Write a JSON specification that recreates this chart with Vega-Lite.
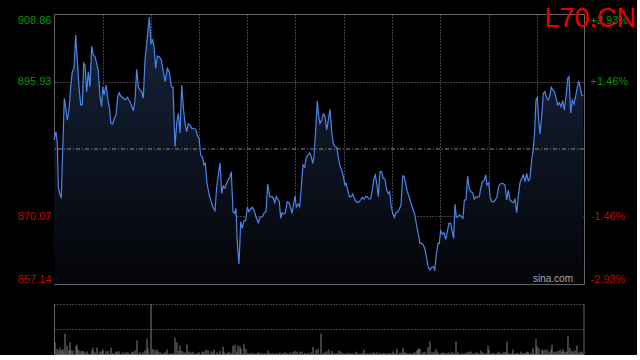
{
  "$schema": "https://vega.github.io/schema/vega-lite/v6.json",
  "background": "#000000",
  "padding": {"left": 16, "top": 4, "right": 0, "bottom": 0},
  "spacing": 18,
  "config": {"view": {"stroke": null}, "font": "Liberation Sans"},
  "datasets": {
    "price": [
      {"t":0,"p":884.72},{"t":2,"p":886.31},{"t":3.3,"p":884.15},{"t":4.3,"p":875.78},{"t":6,"p":874.19},{"t":7.3,"p":873.75},{"t":8.7,"p":882.81},{"t":10.3,"p":892.71},{"t":11.7,"p":890.85},{"t":13.3,"p":888.56},
      {"t":15,"p":890.47},{"t":16.7,"p":894.93},{"t":18.3,"p":897.81},{"t":20,"p":898.46},{"t":21.7,"p":904.84},{"t":23.3,"p":900.05},{"t":25,"p":894.93},{"t":26.7,"p":891.43},{"t":28.3,"p":891.43},{"t":29.7,"p":899.42},
      {"t":31,"p":899.09},{"t":32.7,"p":893.98},{"t":34.3,"p":897.81},{"t":36,"p":894.93},{"t":37.7,"p":902.73},{"t":39.3,"p":901.01},{"t":41,"p":900.68},{"t":42.7,"p":899.42},{"t":44.3,"p":897.81},{"t":46,"p":893.02},
      {"t":47.7,"p":891.10},{"t":48.7,"p":894.93},{"t":50,"p":893.34},{"t":52,"p":895.26},{"t":53.7,"p":892.71},{"t":55.3,"p":891.10},{"t":57,"p":887.92},{"t":58.7,"p":887.79},{"t":60.3,"p":888.88},{"t":62,"p":889.51},
      {"t":63.7,"p":893.02},{"t":65.3,"p":893.78},{"t":67,"p":893.02},{"t":68.7,"p":892.90},{"t":70.3,"p":892.52},{"t":72,"p":892.52},{"t":73.3,"p":892.90},{"t":75.3,"p":892.25},{"t":77,"p":891.62},{"t":79.3,"p":890.34},
      {"t":81,"p":892.39},{"t":82.7,"p":898.27},{"t":84.3,"p":894.93},{"t":86,"p":894.30},{"t":87.7,"p":893.98},{"t":89.3,"p":892.71},{"t":91,"p":900.05},{"t":92.7,"p":903.25},{"t":95.3,"p":908.23},{"t":97,"p":903.25},
      {"t":98.7,"p":903.88},{"t":100,"p":902.60},{"t":101.7,"p":898.46},{"t":103.3,"p":900.82},{"t":105.3,"p":900.68},{"t":107.3,"p":900.05},{"t":109.3,"p":897.81},{"t":111.3,"p":895.89},{"t":113.3,"p":898.46},{"t":115.3,"p":897.81},
      {"t":117.3,"p":894.93},{"t":119,"p":894.82},{"t":121,"p":883.44},{"t":122.7,"p":887.92},{"t":124.3,"p":889.84},{"t":126,"p":886.01},{"t":127.7,"p":895.26},{"t":129.3,"p":891.10},{"t":131,"p":887.92},{"t":132.7,"p":886.31},
      {"t":134.3,"p":887.79},{"t":136,"p":887.60},{"t":137.7,"p":886.97},{"t":139.3,"p":886.97},{"t":141.7,"p":886.77},{"t":143.3,"p":885.68},{"t":145,"p":885.05},{"t":146.7,"p":881.85},{"t":148.3,"p":881.53},{"t":150,"p":879.94},
      {"t":151.3,"p":880.26},{"t":153,"p":876.43},{"t":155.3,"p":874.19},{"t":157.7,"p":872.60},{"t":159.3,"p":871.64},{"t":161,"p":871.18},{"t":162.7,"p":875.78},{"t":164.3,"p":878.02},{"t":166,"p":880.38},{"t":167.7,"p":874.51},
      {"t":169.3,"p":875.91},{"t":171,"p":875.47},{"t":172.7,"p":876.43},{"t":174.3,"p":877.06},{"t":176,"p":877.69},{"t":177.3,"p":878.65},{"t":179,"p":870.99},{"t":180.7,"p":870.68},{"t":182,"p":871.64},{"t":183.3,"p":864.94},
      {"t":185,"p":860.97},{"t":186.7,"p":869.07},{"t":188.3,"p":867.81},{"t":190,"p":869.27},{"t":191.7,"p":869.27},{"t":193.3,"p":871.83},{"t":195,"p":870.99},{"t":196.7,"p":871.51},{"t":198.3,"p":871.83},{"t":200,"p":871.32},
      {"t":202,"p":870.03},{"t":204.3,"p":868.88},{"t":206,"p":869.92},{"t":208.3,"p":870.03},{"t":210.3,"p":870.80},{"t":212,"p":870.99},{"t":213.7,"p":876.30},{"t":215.7,"p":873.86},{"t":218,"p":873.86},{"t":219.3,"p":873.67},
      {"t":220.7,"p":872.71},{"t":222.3,"p":873.86},{"t":224,"p":873.37},{"t":225.3,"p":872.91},{"t":226.7,"p":869.73},{"t":228,"p":870.80},{"t":229.7,"p":870.55},{"t":231.3,"p":870.80},{"t":233.3,"p":872.91},{"t":235,"p":872.71},
      {"t":236.7,"p":871.64},{"t":238,"p":870.68},{"t":239.7,"p":872.60},{"t":241,"p":874.00},{"t":242.3,"p":871.83},{"t":244,"p":872.47},{"t":245.7,"p":871.95},{"t":247.3,"p":875.78},{"t":249,"p":879.94},{"t":250.7,"p":879.49},
      {"t":252.3,"p":881.41},{"t":254,"p":881.85},{"t":255.7,"p":882.29},{"t":257.3,"p":881.53},{"t":258.7,"p":880.26},{"t":260,"p":881.53},{"t":261.7,"p":886.64},{"t":263.3,"p":892.25},{"t":264.7,"p":889.19},{"t":266,"p":887.92},
      {"t":267.7,"p":888.56},{"t":269.3,"p":889.70},{"t":271,"p":889.32},{"t":272.7,"p":886.64},{"t":274.3,"p":888.56},{"t":276,"p":890.60},{"t":277.7,"p":886.31},{"t":279.3,"p":884.09},{"t":281,"p":883.44},{"t":282.7,"p":883.33},
      {"t":284.3,"p":881.53},{"t":286,"p":879.74},{"t":287.7,"p":878.98},{"t":289.3,"p":877.69},{"t":291,"p":876.10},{"t":292,"p":876.43},{"t":293.7,"p":875.15},{"t":295.3,"p":873.86},{"t":297,"p":873.86},{"t":298.7,"p":874.38},
      {"t":300.3,"p":873.56},{"t":302,"p":872.91},{"t":303.7,"p":872.79},{"t":305.3,"p":872.91},{"t":307,"p":873.37},{"t":308.3,"p":873.75},{"t":310,"p":873.37},{"t":311.7,"p":873.86},{"t":313.3,"p":873.86},{"t":315,"p":873.42},
      {"t":316.7,"p":873.42},{"t":318.3,"p":875.15},{"t":320,"p":877.39},{"t":321.3,"p":878.02},{"t":323,"p":876.10},{"t":324.3,"p":873.86},{"t":326,"p":878.65},{"t":327.7,"p":878.65},{"t":329.3,"p":877.39},{"t":331,"p":877.20},
      {"t":332.7,"p":875.15},{"t":334.3,"p":874.51},{"t":335.7,"p":874.82},{"t":337,"p":872.27},{"t":338.7,"p":870.68},{"t":340.3,"p":869.92},{"t":342,"p":870.80},{"t":343.7,"p":870.99},{"t":345.3,"p":871.45},{"t":347,"p":872.27},
      {"t":348.7,"p":877.83},{"t":350,"p":877.83},{"t":351.7,"p":876.43},{"t":353.3,"p":874.82},{"t":355.3,"p":873.75},{"t":357,"p":872.60},{"t":359,"p":871.45},{"t":360.7,"p":870.55},{"t":362.7,"p":868.25},{"t":364.3,"p":866.72},
      {"t":366,"p":864.94},{"t":367.7,"p":864.94},{"t":369.3,"p":864.61},{"t":371,"p":863.79},{"t":372.7,"p":862.06},{"t":374.3,"p":860.34},{"t":376,"p":859.82},{"t":377.7,"p":860.34},{"t":379.3,"p":860.45},{"t":380.7,"p":859.82},
      {"t":382.3,"p":862.70},{"t":384,"p":864.94},{"t":385.3,"p":864.94},{"t":386.7,"p":867.35},{"t":388.3,"p":866.72},{"t":390,"p":866.97},{"t":391.7,"p":865.70},{"t":393.3,"p":867.16},{"t":395,"p":868.77},{"t":396.7,"p":868.77},
      {"t":398.3,"p":867.16},{"t":399.7,"p":865.89},{"t":401,"p":872.47},{"t":402.3,"p":869.92},{"t":404,"p":870.03},{"t":405.7,"p":870.36},{"t":407.3,"p":870.03},{"t":409,"p":869.73},{"t":410.3,"p":873.23},{"t":412,"p":873.23},
      {"t":413.7,"p":877.83},{"t":415.3,"p":875.28},{"t":417,"p":874.82},{"t":418.7,"p":874.63},{"t":420.3,"p":873.37},{"t":422,"p":873.86},{"t":423.7,"p":873.75},{"t":425.3,"p":873.86},{"t":426.7,"p":875.47},{"t":428.3,"p":876.74},
      {"t":430,"p":876.93},{"t":431.7,"p":878.02},{"t":433,"p":876.10},{"t":434.7,"p":876.55},{"t":436.3,"p":873.56},{"t":438,"p":872.91},{"t":439.7,"p":872.91},{"t":441.3,"p":873.23},{"t":443,"p":873.86},{"t":444.7,"p":875.78},
      {"t":446.3,"p":876.30},{"t":448,"p":876.43},{"t":449.7,"p":876.30},{"t":451,"p":876.10},{"t":452.7,"p":873.23},{"t":454.3,"p":875.15},{"t":456,"p":873.23},{"t":457.7,"p":872.91},{"t":459.3,"p":872.71},{"t":461,"p":873.37},
      {"t":462.7,"p":870.80},{"t":464.3,"p":873.86},{"t":466,"p":876.55},{"t":467.7,"p":877.39},{"t":469.3,"p":878.02},{"t":471,"p":876.74},{"t":472.7,"p":878.34},{"t":474.3,"p":876.93},{"t":476,"p":877.39},{"t":477.7,"p":880.89},
      {"t":479.3,"p":882.94},{"t":480.7,"p":886.64},{"t":482,"p":892.39},{"t":483.3,"p":892.90},{"t":484.7,"p":888.56},{"t":486,"p":885.87},{"t":487.7,"p":889.19},{"t":489.3,"p":893.67},{"t":491,"p":893.98},{"t":492.7,"p":892.71},
      {"t":494.3,"p":892.39},{"t":496,"p":893.34},{"t":497.3,"p":894.82},{"t":498.7,"p":894.30},{"t":500.3,"p":893.98},{"t":502,"p":892.90},{"t":503.7,"p":891.43},{"t":505.3,"p":891.87},{"t":507,"p":891.10},{"t":508.7,"p":892.25},
      {"t":510.3,"p":890.47},{"t":512,"p":893.02},{"t":513.7,"p":896.54},{"t":515,"p":896.85},{"t":516.7,"p":889.84},{"t":518.3,"p":892.39},{"t":520,"p":891.62},{"t":521.7,"p":893.15},{"t":523.3,"p":894.82},{"t":524.7,"p":895.89},
      {"t":526,"p":895.07},{"t":527.7,"p":893.34},{"t":529.3,"p":893.15}
    ],
    "vol": [
      {"t":1,"v":1170},{"t":3,"v":530},{"t":5,"v":370},{"t":6,"v":630},{"t":8,"v":430},{"t":9,"v":430},{"t":11,"v":2030},{"t":13,"v":830},{"t":15,"v":370},{"t":16,"v":1170},
      {"t":17,"v":370},{"t":19,"v":370},{"t":22,"v":770},{"t":23,"v":930},{"t":24,"v":430},{"t":26,"v":330},{"t":28,"v":270},{"t":29,"v":330},{"t":31,"v":170},{"t":33,"v":270},
      {"t":38,"v":330},{"t":39,"v":630},{"t":41,"v":170},{"t":43,"v":630},{"t":46,"v":230},{"t":48,"v":270},{"t":49,"v":430},{"t":52,"v":270},{"t":54,"v":300},{"t":57,"v":630},
      {"t":59,"v":100},{"t":62,"v":270},{"t":63,"v":170},{"t":65,"v":270},{"t":69,"v":170},{"t":72,"v":170},{"t":74,"v":170},{"t":78,"v":230},{"t":79,"v":170},{"t":81,"v":370},
      {"t":83,"v":1370},{"t":86,"v":170},{"t":89,"v":170},{"t":91,"v":370},{"t":93,"v":1530},{"t":94,"v":530},{"t":97,"v":5000},{"t":99,"v":500},{"t":101,"v":370},{"t":103,"v":430},
      {"t":104,"v":230},{"t":106,"v":170},{"t":109,"v":100},{"t":111,"v":170},{"t":113,"v":430},{"t":116,"v":70},{"t":119,"v":70},{"t":121,"v":1630},{"t":123,"v":1170},{"t":125,"v":300},
      {"t":126,"v":830},{"t":128,"v":300},{"t":130,"v":170},{"t":131,"v":100},{"t":133,"v":930},{"t":135,"v":230},{"t":137,"v":170},{"t":139,"v":230},{"t":143,"v":100},{"t":145,"v":170},
      {"t":148,"v":230},{"t":150,"v":230},{"t":152,"v":430},{"t":154,"v":370},{"t":157,"v":270},{"t":159,"v":170},{"t":160,"v":430},{"t":163,"v":170},{"t":166,"v":300},{"t":169,"v":730},
      {"t":170,"v":230},{"t":173,"v":100},{"t":175,"v":230},{"t":177,"v":100},{"t":179,"v":830},{"t":181,"v":930},{"t":183,"v":230},{"t":184,"v":830},{"t":186,"v":770},{"t":187,"v":500},
      {"t":190,"v":1030},{"t":192,"v":500},{"t":194,"v":100},{"t":197,"v":100},{"t":199,"v":100},{"t":203,"v":100},{"t":205,"v":170},{"t":208,"v":100},{"t":211,"v":100},{"t":214,"v":330},
      {"t":216,"v":100},{"t":219,"v":100},{"t":223,"v":100},{"t":226,"v":170},{"t":229,"v":100},{"t":231,"v":170},{"t":233,"v":100},{"t":236,"v":170},{"t":239,"v":170},{"t":241,"v":300},
      {"t":243,"v":230},{"t":246,"v":230},{"t":248,"v":230},{"t":251,"v":100},{"t":254,"v":100},{"t":257,"v":170},{"t":259,"v":700},{"t":262,"v":430},{"t":264,"v":530},{"t":267,"v":2030},
      {"t":269,"v":100},{"t":271,"v":170},{"t":273,"v":270},{"t":275,"v":430},{"t":278,"v":300},{"t":280,"v":100},{"t":283,"v":100},{"t":285,"v":330},{"t":287,"v":230},{"t":289,"v":100},
      {"t":293,"v":100},{"t":295,"v":100},{"t":298,"v":100},{"t":302,"v":230},{"t":304,"v":100},{"t":308,"v":100},{"t":310,"v":430},{"t":313,"v":100},{"t":316,"v":100},{"t":319,"v":170},
      {"t":321,"v":100},{"t":323,"v":170},{"t":326,"v":100},{"t":329,"v":100},{"t":331,"v":100},{"t":334,"v":100},{"t":336,"v":100},{"t":339,"v":230},{"t":341,"v":100},{"t":343,"v":530},
      {"t":346,"v":170},{"t":348,"v":100},{"t":349,"v":630},{"t":351,"v":170},{"t":353,"v":100},{"t":356,"v":100},{"t":359,"v":100},{"t":361,"v":170},{"t":363,"v":330},{"t":364,"v":430},
      {"t":365,"v":570},{"t":366,"v":500},{"t":369,"v":170},{"t":371,"v":230},{"t":374,"v":700},{"t":376,"v":1270},{"t":378,"v":170},{"t":380,"v":230},{"t":382,"v":500},{"t":384,"v":170},
      {"t":387,"v":100},{"t":389,"v":170},{"t":391,"v":100},{"t":393,"v":100},{"t":395,"v":170},{"t":398,"v":230},{"t":400,"v":100},{"t":402,"v":1230},{"t":404,"v":170},{"t":408,"v":100},
      {"t":411,"v":100},{"t":413,"v":170},{"t":415,"v":230},{"t":417,"v":230},{"t":419,"v":100},{"t":422,"v":170},{"t":424,"v":100},{"t":427,"v":330},{"t":429,"v":170},{"t":432,"v":100},
      {"t":434,"v":830},{"t":435,"v":430},{"t":438,"v":100},{"t":440,"v":100},{"t":443,"v":100},{"t":445,"v":230},{"t":448,"v":100},{"t":450,"v":230},{"t":452,"v":170},{"t":453,"v":1230},
      {"t":455,"v":100},{"t":458,"v":100},{"t":459,"v":430},{"t":462,"v":100},{"t":464,"v":100},{"t":467,"v":230},{"t":469,"v":100},{"t":471,"v":100},{"t":473,"v":230},{"t":474,"v":170},
      {"t":477,"v":100},{"t":479,"v":630},{"t":482,"v":1500},{"t":483,"v":770},{"t":485,"v":570},{"t":488,"v":430},{"t":489,"v":370},{"t":491,"v":430},{"t":493,"v":430},{"t":495,"v":230},
      {"t":497,"v":430},{"t":498,"v":930},{"t":500,"v":230},{"t":502,"v":230},{"t":504,"v":300},{"t":506,"v":430},{"t":508,"v":230},{"t":509,"v":500},{"t":511,"v":230},{"t":513,"v":230},
      {"t":514,"v":1770},{"t":516,"v":600},{"t":518,"v":300},{"t":519,"v":230},{"t":521,"v":370},{"t":523,"v":830},{"t":525,"v":170},{"t":527,"v":230},{"t":528,"v":230}
    ]
  },
  "vconcat": [
    {
      "width": 530,
      "height": 270,
      "view": {"stroke": "#666666", "strokeWidth": 1},
      "title": {"text": "L70.CN", "anchor": "end", "frame": "group", "orient": "top", "offset": 0, "dx": 52, "dy": 40, "baseline": "alphabetic", "fontSize": 27, "font": "Liberation Sans", "fontWeight": "normal", "color": "#e60000"},
      "layer": [
        {
          "data": {"name": "price"},
          "mark": {"type": "area", "fill": {"gradient": "linear", "x1": 0, "y1": 0, "x2": 0, "y2": 1, "stops": [{"offset": 0, "color": "#17253d"}, {"offset": 1, "color": "#030407"}]}},
          "encoding": {
            "x": {"field": "t", "type": "quantitative", "scale": {"domain": [0, 530], "nice": false},
              "axis": {"values": [49, 97, 145, 193, 241, 290, 338, 386, 435, 483], "labels": false, "ticks": false, "domain": false, "title": null, "grid": true, "gridColor": "#808080", "gridDash": [1, 2]}},
            "y": {"field": "p", "type": "quantitative", "scale": {"domain": [857.14, 908.86], "zero": false, "nice": false},
              "axis": {"orient": "left", "values": [857.14, 870.07, 895.93, 908.86], "format": ".2f", "title": null, "domain": false, "ticks": false, "labelFlush": true, "labelPadding": 3, "labelFontSize": 11, "labelFont": "Liberation Sans",
                "labelColor": {"condition": {"test": "datum.value > 883", "value": "#009900"}, "value": "#cc0000"},
                "grid": true, "gridColor": "#808080", "gridDash": [1, 2],
                "gridOpacity": {"condition": {"test": "datum.value < 860 || datum.value > 905", "value": 0}, "value": 1}}},
            "y2": {"datum": 857.14}
          }
        },
        {
          "data": {"values": [{}]},
          "mark": {"type": "rule", "color": "#8a8a8a", "strokeWidth": 1, "strokeDash": [4, 2, 1, 2]},
          "encoding": {"y": {"datum": 883, "type": "quantitative", "axis": null}}
        },
        {
          "data": {"name": "price"},
          "mark": {"type": "line", "color": "#4a86e8", "strokeWidth": 1.2},
          "encoding": {
            "x": {"field": "t", "type": "quantitative"},
            "y": {"field": "p", "type": "quantitative",
              "axis": {"orient": "right", "values": [857.14, 870.07, 895.93, 908.86], "labelExpr": "(datum.value > 883 ? '+' : '-') + format(abs(datum.value - 883) / 883 * 100, '.2f') + '%'", "title": null, "domain": false, "ticks": false, "grid": false, "labelFlush": true, "labelPadding": 6, "labelFontSize": 11, "labelFont": "Liberation Sans",
                "labelColor": {"condition": {"test": "datum.value > 883", "value": "#009900"}, "value": "#cc0000"}}}
          }
        },
        {
          "data": {"values": [{}]},
          "mark": {"type": "text", "text": "sina.com", "align": "right", "baseline": "alphabetic", "dx": -11, "dy": -2, "fontSize": 10, "font": "Liberation Sans", "color": "#aaaaaa"},
          "encoding": {"x": {"datum": 530, "type": "quantitative"}, "y": {"datum": 857.14, "type": "quantitative", "axis": null}}
        }
      ],
      "resolve": {"axis": {"y": "independent"}}
    },
    {
      "width": 530,
      "height": 50,
      "layer": [
        {
          "data": {"name": "vol"},
          "mark": {"type": "rule", "color": "#808080", "strokeWidth": 1},
          "encoding": {
            "x": {"field": "t", "type": "quantitative", "scale": {"domain": [0, 530], "nice": false},
              "axis": {"labels": false, "ticks": false, "domain": true, "domainColor": "#666666", "grid": false, "title": null}},
            "y": {"field": "v", "type": "quantitative", "scale": {"domain": [0, 5000], "nice": false},
              "axis": {"values": [2500, 5000], "labels": false, "ticks": false, "domain": true, "domainColor": "#666666", "grid": true, "gridColor": "#808080", "gridDash": [1, 2], "title": null}},
            "y2": {"datum": 0}
          }
        },
        {
          "data": {"values": [{}]},
          "mark": {"type": "rule", "color": "#666666", "strokeWidth": 1},
          "encoding": {"x": {"datum": 530, "type": "quantitative"}, "y": {"datum": 0, "type": "quantitative"}, "y2": {"datum": 5000}}
        }
      ]
    }
  ]
}
